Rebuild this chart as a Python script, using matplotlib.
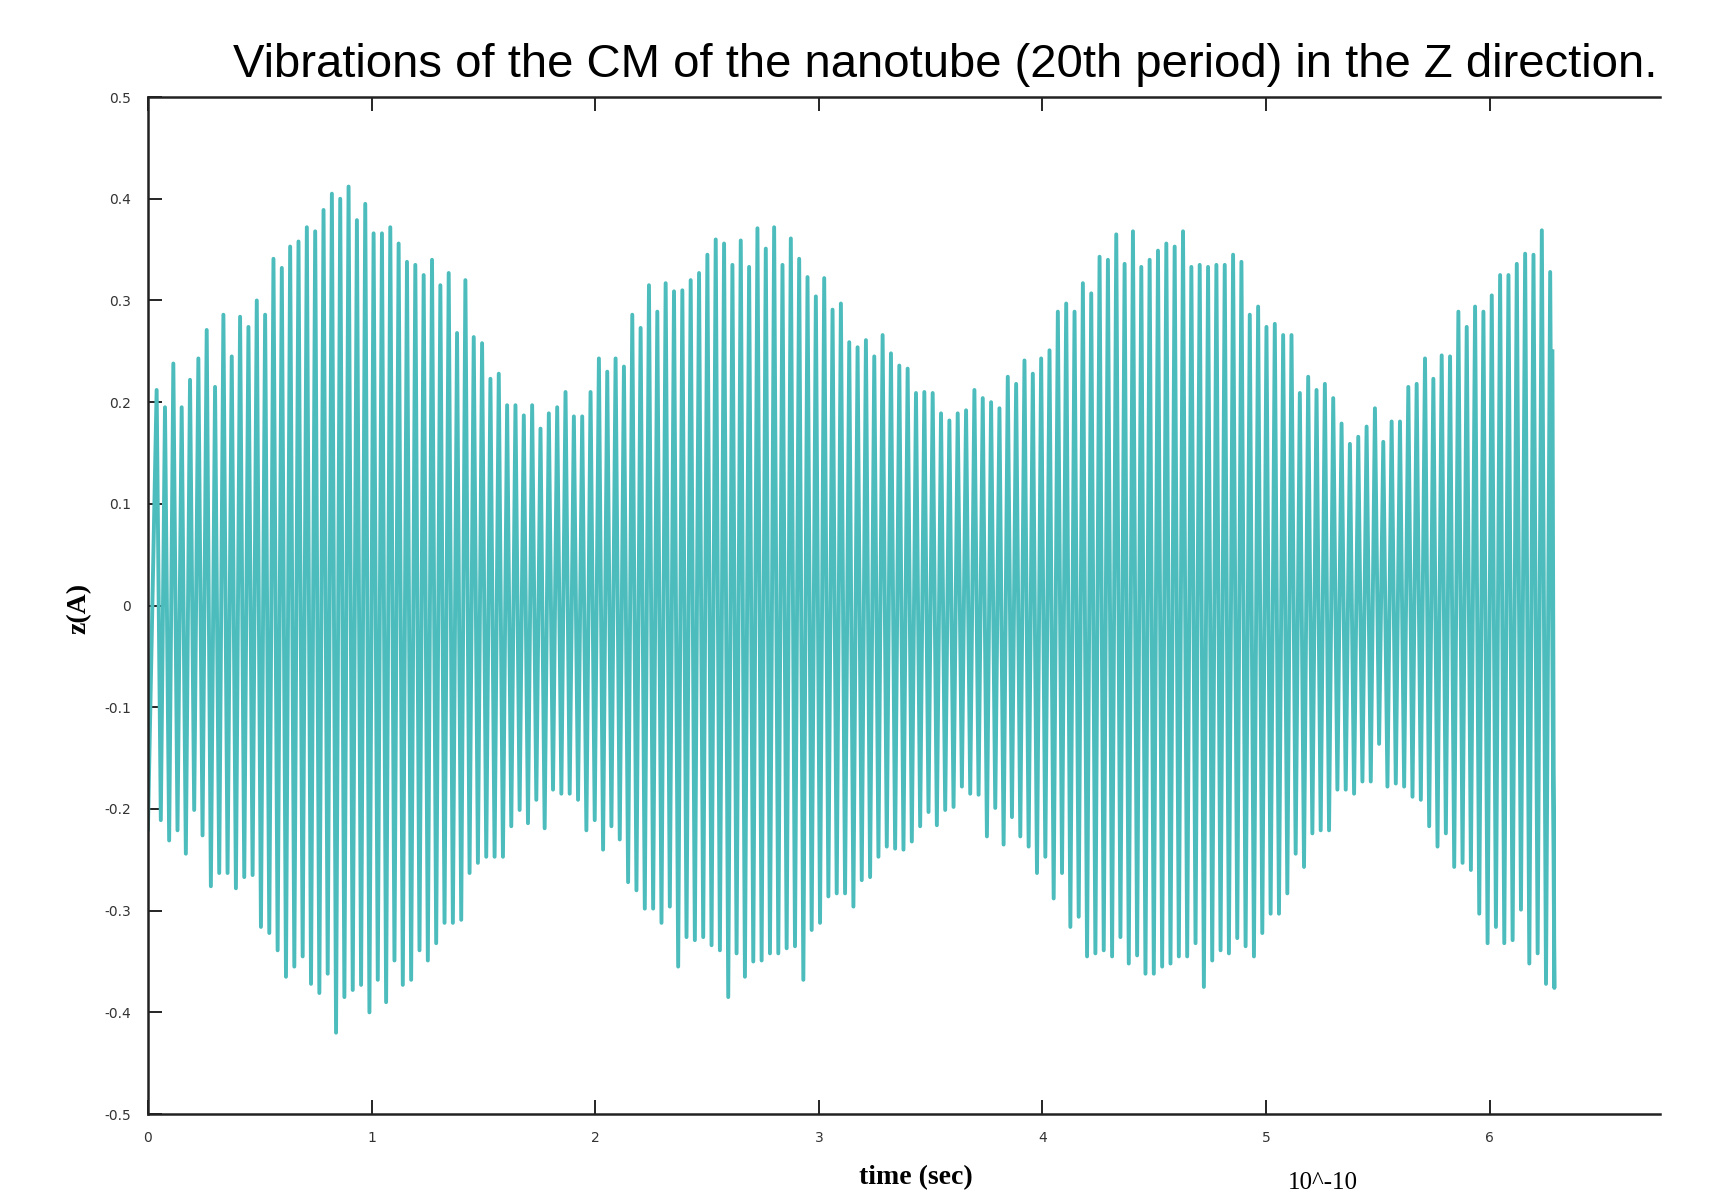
import numpy as np
import matplotlib
matplotlib.use("Agg")
import matplotlib.pyplot as plt

# peak values, left to right (units: A)
upper_a = [0.212, 0.195, 0.238, 0.195, 0.222, 0.243, 0.271, 0.215, 0.286, 0.245,
           0.284, 0.274, 0.300, 0.286, 0.341, 0.332, 0.353, 0.358, 0.372, 0.368,
           0.389, 0.405, 0.400, 0.412, 0.379, 0.395, 0.366, 0.366, 0.372, 0.356,
           0.338, 0.335, 0.325, 0.340, 0.315, 0.327, 0.268, 0.320, 0.264, 0.258,
           0.223, 0.228, 0.197, 0.197, 0.187, 0.197, 0.174, 0.189, 0.195, 0.210,
           0.186, 0.186, 0.210, 0.243, 0.230, 0.243]
upper_b = [0.235, 0.286, 0.273, 0.315, 0.289, 0.317, 0.309, 0.310, 0.320, 0.327,
           0.345, 0.360, 0.356, 0.335, 0.359, 0.333, 0.371, 0.351, 0.372, 0.335,
           0.361, 0.341, 0.323, 0.304, 0.322, 0.291, 0.297, 0.259, 0.254, 0.261,
           0.245, 0.266, 0.248, 0.236, 0.233, 0.209, 0.210, 0.209, 0.189, 0.182,
           0.189, 0.192, 0.212, 0.204, 0.200, 0.194, 0.225, 0.218, 0.241, 0.228,
           0.243, 0.251, 0.289, 0.297, 0.289, 0.317]
upper_c = [0.307, 0.343, 0.340, 0.365, 0.336, 0.368, 0.333, 0.340, 0.349, 0.356,
           0.353, 0.368, 0.333, 0.335, 0.333, 0.335, 0.335, 0.345, 0.338, 0.286,
           0.294, 0.274, 0.277, 0.266, 0.266, 0.209, 0.225, 0.212, 0.218, 0.204,
           0.179, 0.159, 0.166, 0.176, 0.194, 0.161, 0.181, 0.181, 0.215, 0.218,
           0.243, 0.223, 0.246, 0.245, 0.289, 0.274, 0.294, 0.289, 0.305, 0.325,
           0.325, 0.336, 0.346, 0.345, 0.369, 0.328]

lower_a = [-0.211, -0.231, -0.221, -0.244, -0.201, -0.226, -0.276, -0.263, -0.263, -0.278,
           -0.267, -0.265, -0.316, -0.322, -0.339, -0.365, -0.355, -0.345, -0.372, -0.381,
           -0.362, -0.420, -0.385, -0.378, -0.373, -0.400, -0.368, -0.390, -0.349, -0.373,
           -0.368, -0.339, -0.349, -0.332, -0.312, -0.312, -0.309, -0.263, -0.253, -0.247,
           -0.247, -0.247, -0.217, -0.201, -0.214, -0.191, -0.219, -0.181, -0.185, -0.185,
           -0.191, -0.221, -0.211, -0.240, -0.217, -0.230]
lower_b = [-0.272, -0.280, -0.298, -0.298, -0.312, -0.296, -0.355, -0.326, -0.329, -0.326,
           -0.334, -0.339, -0.385, -0.342, -0.365, -0.350, -0.349, -0.342, -0.342, -0.337,
           -0.335, -0.368, -0.319, -0.312, -0.286, -0.283, -0.283, -0.296, -0.270, -0.267,
           -0.247, -0.237, -0.239, -0.240, -0.232, -0.217, -0.203, -0.216, -0.201, -0.198,
           -0.178, -0.185, -0.186, -0.227, -0.199, -0.235, -0.208, -0.227, -0.237, -0.263,
           -0.247, -0.288, -0.263, -0.316, -0.306, -0.345]
lower_c = [-0.342, -0.339, -0.345, -0.326, -0.352, -0.344, -0.362, -0.362, -0.355, -0.352,
           -0.345, -0.345, -0.332, -0.375, -0.349, -0.339, -0.342, -0.327, -0.335, -0.345,
           -0.322, -0.303, -0.303, -0.283, -0.244, -0.257, -0.224, -0.221, -0.221, -0.181,
           -0.181, -0.185, -0.173, -0.173, -0.136, -0.178, -0.175, -0.178, -0.188, -0.191,
           -0.217, -0.237, -0.224, -0.257, -0.253, -0.260, -0.303, -0.332, -0.316, -0.332,
           -0.329, -0.299, -0.352, -0.342, -0.372, -0.376]

start_t, start_z = 0.0, -0.22
end_t, end_z = 6.28, 0.25
first_peak_t, last_peak_t = 0.039, 6.27

upper = np.array(upper_a + upper_b + upper_c)
lower = np.array(lower_a + lower_b + lower_c)
n = min(len(upper), len(lower))
upper, lower = upper[:n], lower[:n]

t_up = np.linspace(first_peak_t, last_peak_t, n)
half = (t_up[1] - t_up[0]) / 2
t_dn = t_up + half

t = np.empty(2 * n)
z = np.empty(2 * n)
t[0::2], t[1::2] = t_up, t_dn
z[0::2], z[1::2] = upper, lower
t = np.concatenate([[start_t], t, [end_t]])
z = np.concatenate([[start_z], z, [end_z]])

fig = plt.figure(figsize=(17.18, 11.97), dpi=100)
ax = fig.add_axes([0.0861, 0.0693, 0.880, 0.8496])

ax.plot(t, z, color='#4cbcbc', linewidth=2.8)

ax.set_xlim(0, 6.76)
ax.set_ylim(-0.5, 0.5)
ax.set_xticks(range(7))
ax.set_yticks(np.round(np.arange(-0.5, 0.51, 0.1), 1))
ax.set_yticklabels(['-0.5', '-0.4', '-0.3', '-0.2', '-0.1', '0',
                    '0.1', '0.2', '0.3', '0.4', '0.5'])
ax.tick_params(direction='in', length=10, width=1.2, top=True, right=False,
               labelsize=10, labelcolor='#333333', pad=12)
for side in ('left', 'bottom', 'top'):
    ax.spines[side].set_linewidth(1.8)
    ax.spines[side].set_color('#222222')
ax.spines['right'].set_visible(False)

fig.text(0.550, 0.946, 'Vibrations of the CM of the nanotube (20th period) in the Z direction.',
         ha='center', va='center', fontsize=34, family='Liberation Sans')
fig.text(0.533, 0.016, 'time (sec)', ha='center', va='center',
         fontsize=20, family='Liberation Serif', fontweight='bold')
fig.text(0.770, 0.012, '10^-10', ha='center', va='center',
         fontsize=18, family='Liberation Serif')
fig.text(0.046, 0.492, 'z(A)', ha='center', va='center', rotation=90,
         fontsize=20, family='Liberation Serif', fontweight='bold')

fig.savefig('out.png', dpi=100)
